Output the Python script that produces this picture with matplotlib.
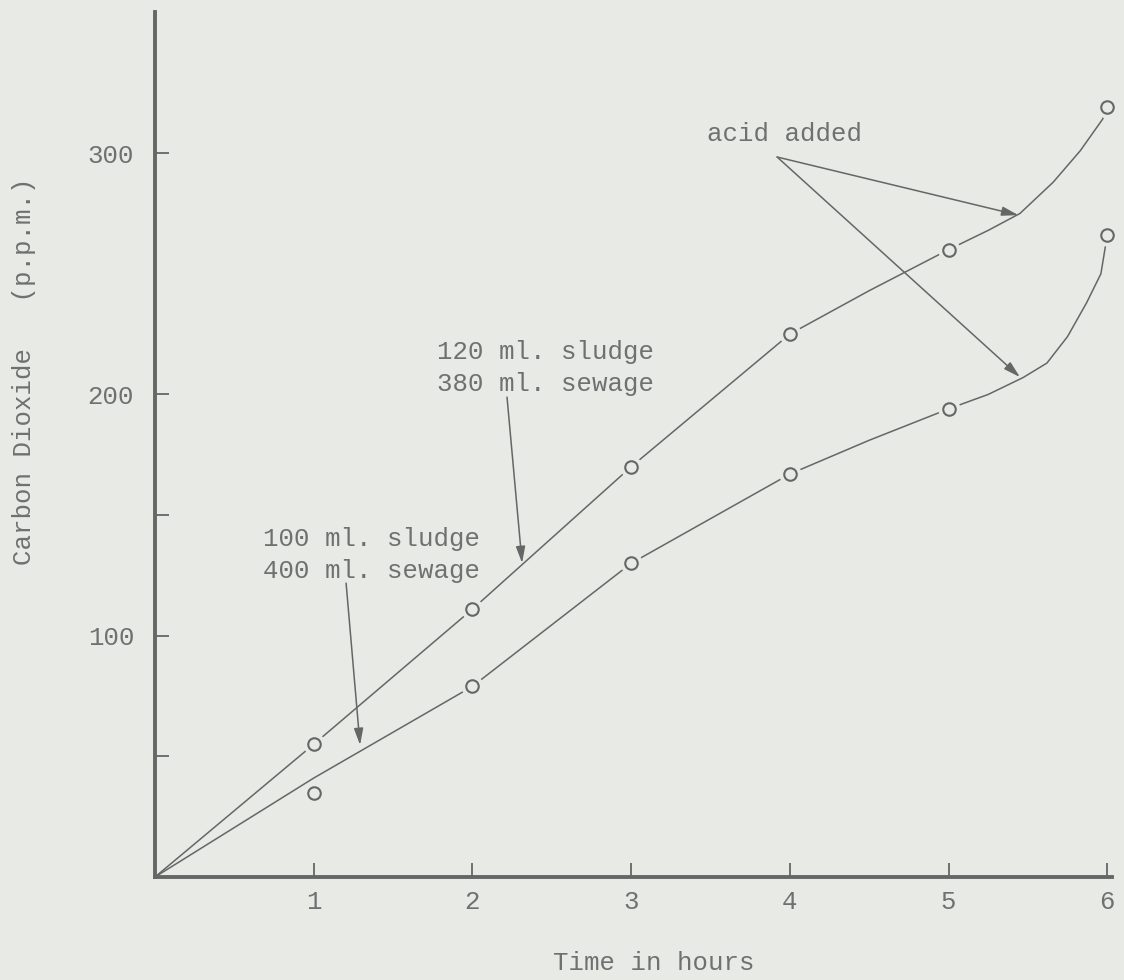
# Carbon dioxide production of sludge/sewage mixtures, typewritten chart style
import matplotlib.pyplot as plt

# measured points (hours, p.p.m. CO2)
hours = [1, 2, 3, 4, 5, 6]
co2_120_sludge = [55, 111, 170, 225, 260, 319]
co2_100_sludge = [35, 79, 130, 167, 194, 266]

# hand drawn curves
curve_120_x = [0, 1, 2, 3, 4, 4.5, 5, 5.25, 5.45, 5.66, 5.83, 5.97, 6.0]
curve_120_y = [0, 55, 111, 170, 225, 243, 260, 268, 275, 288, 301, 314, 319]
curve_100_x = [0, 1, 2, 3, 4, 4.5, 5, 5.25, 5.47, 5.62, 5.75, 5.87, 5.96, 6.0]
curve_100_y = [0, 41, 79, 130, 167, 181, 194, 200, 207, 213, 224, 238, 250, 266]

y_major = [100, 200, 300]
y_minor = [50, 150]

paper = '#e8eae5'
ink = '#666666'
text_ink = '#707070'
font = ['Liberation Mono', 'DejaVu Sans Mono']
fs = 18.5

plt.rcParams['font.family'] = font

fig = plt.figure(figsize=(11.24, 9.8), dpi=100, facecolor=paper)
ax = fig.add_axes([155 / 1124, 103 / 980, 957 / 1124, 865 / 980])
ax.set_facecolor(paper)

ax.set_xlim(0, 6.03)
ax.set_ylim(0, 358.5)

for s in ['top', 'right']:
    ax.spines[s].set_visible(False)
for s in ['left', 'bottom']:
    ax.spines[s].set_linewidth(2.8)
    ax.spines[s].set_color(ink)

ax.set_xticks(hours)
ax.set_xticklabels([str(h) for h in hours])
ax.set_yticks(y_major)
ax.set_yticklabels([str(v) for v in y_major])
ax.set_yticks(y_minor, minor=True)
ax.tick_params(axis='both', which='both', direction='in', length=10,
               width=1.3, color=ink, labelsize=fs, labelcolor=text_ink)
ax.tick_params(axis='y', pad=15)
ax.tick_params(axis='x', pad=9)

# curves
ax.plot(curve_120_x, curve_120_y, color=ink, lw=1.1, zorder=2, clip_on=False)
ax.plot(curve_100_x, curve_100_y, color=ink, lw=1.1, zorder=2, clip_on=False)

# gaps around the circles, then the circles
for ys in [co2_120_sludge, co2_100_sludge]:
    ax.plot(hours, ys, 'o', ms=15, mfc=paper, mec=paper, zorder=3, clip_on=False)
    ax.plot(hours, ys, 'o', ms=9, mfc=paper, mec=ink, mew=1.5, zorder=4,
            clip_on=False)

arrow = dict(arrowstyle='-|>,head_length=0.5,head_width=0.14', color=ink,
             lw=1.1, mutation_scale=20, shrinkA=0, shrinkB=0)

# acid added
ax.text(3.48, 308, 'acid added', fontsize=fs, color=text_ink, ha='left',
        va='center')
ax.annotate('', xy=(5.44, 274.3), xytext=(3.92, 298.4), arrowprops=arrow)
ax.annotate('', xy=(5.45, 207.2), xytext=(3.92, 298.4), arrowprops=arrow)

# series labels
ax.text(1.777, 211, '120 ml. sludge\n380 ml. sewage', fontsize=fs,
        color=text_ink, ha='left', va='center', linespacing=1.43)
ax.annotate('', xy=(2.313, 130.1), xytext=(2.218, 198.9), arrowprops=arrow)

ax.text(0.681, 133.4, '100 ml. sludge\n400 ml. sewage', fontsize=fs,
        color=text_ink, ha='left', va='center', linespacing=1.43)
ax.annotate('', xy=(1.292, 54.7), xytext=(1.204, 121.8), arrowprops=arrow)

# axis titles
fig.text(654 / 1124, 10 / 980, 'Time in hours', fontsize=fs, color=text_ink,
         ha='center', va='baseline')
fig.text(24 / 1124, 415 / 980, 'Carbon Dioxide   (p.p.m.)', fontsize=fs,
         color=text_ink, rotation=90, ha='center', va='bottom')

fig.savefig('out.png', dpi=100, facecolor=paper)
